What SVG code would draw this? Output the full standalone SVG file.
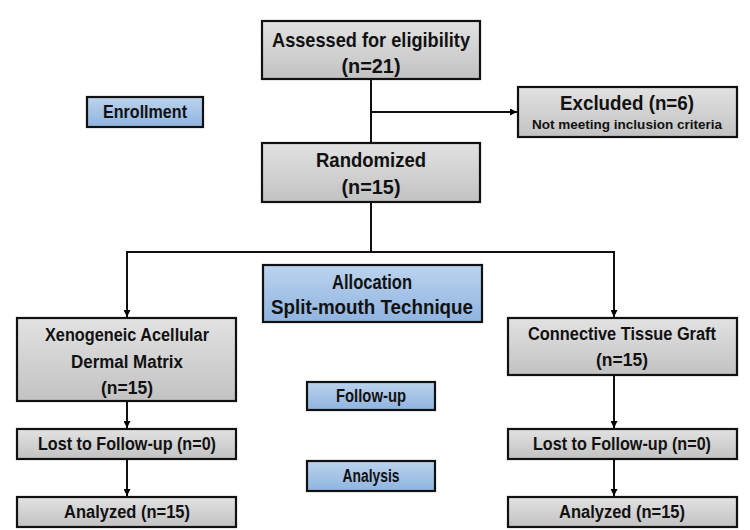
<svg xmlns="http://www.w3.org/2000/svg" width="750" height="530" viewBox="0 0 750 530">
<defs>
<linearGradient id="gray" x1="0" y1="0" x2="0" y2="1">
<stop offset="0" stop-color="#e2e2e2"/><stop offset="1" stop-color="#c2c2c2"/>
</linearGradient>
<linearGradient id="blue" x1="0" y1="0" x2="0" y2="1">
<stop offset="0" stop-color="#bcd3ee"/><stop offset="1" stop-color="#8fb4e0"/>
</linearGradient>
<marker id="arr" viewBox="0 0 10 10" refX="10" refY="5" markerWidth="7" markerHeight="7" markerUnits="userSpaceOnUse" orient="auto">
<path d="M0,0 L10,5 L0,10 z" fill="#000"/>
</marker>
</defs>
<style>
.g{fill:url(#gray);stroke:#111;stroke-width:2.2}
.b{fill:url(#blue);stroke:#111;stroke-width:2.2}
text{font-family:"Liberation Sans",Arial,sans-serif;font-weight:bold;fill:#111;text-anchor:middle}
.l{font-size:21px}
.m{font-size:17.5px}
.s{font-size:13px}
.c{stroke:#111;stroke-width:2;fill:none}
</style>
<rect width="750" height="530" fill="#fff"/>
<g id="connectors">
<line class="c" x1="371" y1="79" x2="371" y2="143"/>
<line class="c" x1="371" y1="112" x2="517" y2="112" marker-end="url(#arr)"/>
<line class="c" x1="371" y1="202" x2="371" y2="252"/>
<polyline class="c" points="127,252 614,252"/>
<line class="c" x1="127" y1="251" x2="127" y2="317" marker-end="url(#arr)"/>
<line class="c" x1="614" y1="251" x2="614" y2="317" marker-end="url(#arr)"/>
<line class="c" x1="127" y1="401" x2="127" y2="428" marker-end="url(#arr)"/>
<line class="c" x1="127" y1="459" x2="127" y2="496" marker-end="url(#arr)"/>
<line class="c" x1="614" y1="375" x2="614" y2="428" marker-end="url(#arr)"/>
<line class="c" x1="614" y1="459" x2="614" y2="496" marker-end="url(#arr)"/>
</g>
<g id="assessed"><rect class="g" x="262" y="21" width="218" height="58"/>
<text class="l" x="371" y="47" textLength="198" lengthAdjust="spacingAndGlyphs">Assessed for eligibility</text>
<text class="l" x="371" y="73" textLength="59" lengthAdjust="spacingAndGlyphs">(n=21)</text></g>
<g id="excluded"><rect class="g" x="518" y="87" width="219" height="50"/>
<text class="l" x="627" y="110" textLength="134" lengthAdjust="spacingAndGlyphs">Excluded (n=6)</text>
<text class="s" x="627" y="129" textLength="190" lengthAdjust="spacingAndGlyphs">Not meeting inclusion criteria</text></g>
<g id="enrollment"><rect class="b" x="87" y="97" width="116" height="30"/>
<text class="m" x="145" y="118" textLength="84" lengthAdjust="spacingAndGlyphs">Enrollment</text></g>
<g id="randomized"><rect class="g" x="262" y="143" width="218" height="59"/>
<text class="l" x="371" y="167" textLength="110" lengthAdjust="spacingAndGlyphs">Randomized</text>
<text class="l" x="371" y="194" textLength="59" lengthAdjust="spacingAndGlyphs">(n=15)</text></g>
<g id="allocation"><rect class="b" x="263" y="265" width="219" height="57"/>
<text class="l" x="372" y="289" textLength="80" lengthAdjust="spacingAndGlyphs">Allocation</text>
<text class="l" x="372" y="314" textLength="202" lengthAdjust="spacingAndGlyphs">Split-mouth Technique</text></g>
<g id="xadm"><rect class="g" x="17" y="318" width="219" height="83"/>
<text class="m" x="127" y="341" textLength="164" lengthAdjust="spacingAndGlyphs">Xenogeneic Acellular</text>
<text class="m" x="127" y="368" textLength="112" lengthAdjust="spacingAndGlyphs">Dermal Matrix</text>
<text class="m" x="127" y="394" textLength="52" lengthAdjust="spacingAndGlyphs">(n=15)</text></g>
<g id="ctg"><rect class="g" x="508" y="318" width="229" height="57"/>
<text class="m" x="622" y="340" textLength="188" lengthAdjust="spacingAndGlyphs">Connective Tissue Graft</text>
<text class="m" x="622" y="366" textLength="52" lengthAdjust="spacingAndGlyphs">(n=15)</text></g>
<g id="followup"><rect class="b" x="307" y="382" width="128" height="28"/>
<text class="m" x="371" y="402" textLength="70" lengthAdjust="spacingAndGlyphs">Follow-up</text></g>
<g id="lost-left"><rect class="g" x="17" y="429" width="219" height="30"/>
<text class="m" x="127" y="450" textLength="178" lengthAdjust="spacingAndGlyphs">Lost to Follow-up (n=0)</text></g>
<g id="lost-right"><rect class="g" x="508" y="429" width="229" height="30"/>
<text class="m" x="622" y="450" textLength="178" lengthAdjust="spacingAndGlyphs">Lost to Follow-up (n=0)</text></g>
<g id="analysis"><rect class="b" x="307" y="461" width="128" height="30"/>
<text class="m" x="371" y="482" textLength="57" lengthAdjust="spacingAndGlyphs">Analysis</text></g>
<g id="analyzed-left"><rect class="g" x="17" y="497" width="219" height="30"/>
<text class="m" x="127" y="518" textLength="126" lengthAdjust="spacingAndGlyphs">Analyzed (n=15)</text></g>
<g id="analyzed-right"><rect class="g" x="508" y="497" width="229" height="30"/>
<text class="m" x="622" y="518" textLength="126" lengthAdjust="spacingAndGlyphs">Analyzed (n=15)</text></g>
</svg>
